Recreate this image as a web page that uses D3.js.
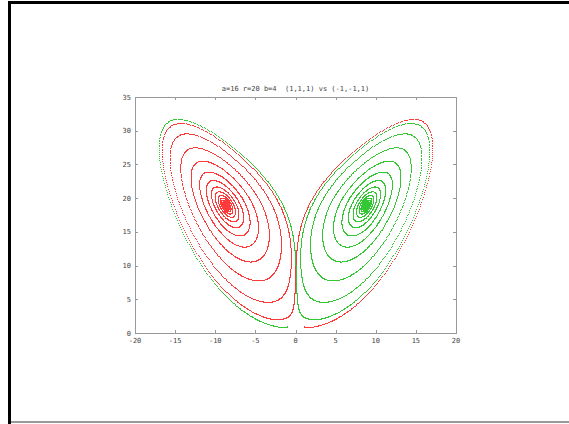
<!DOCTYPE html>
<html>
<head>
<meta charset="utf-8">
<script src="https://cdn.jsdelivr.net/npm/d3@7"></script>
<style>
  html, body { margin: 0; padding: 0; background: #fff; }
  svg { display: block; }
  .tick-label { font-family: "DejaVu Sans Mono", monospace; font-size: 7px; fill: #444; white-space: pre; }
</style>
</head>
<body>
<div id="chart"></div>
<script>
// Lorenz system as given in the title: a, r, b
const params = [16, 20, 4];
// starting points of the two runs (red, green)
const startRed = [1, 1, 1];
const startGreen = [-1, -1, 1];
const runColors = ['#ff3a3a', '#33c833'];
// time step and length of each run
const timing = [0.0015, 22];

const xTicks = [-20, -15, -10, -5, 0, 5, 10, 15, 20];
const yTicks = [0, 5, 10, 15, 20, 25, 30, 35];
const title = 'a=16 r=20 b=4  (1,1,1) vs (-1,-1,1)';

const W = 569, H = 424;
const plot = { left: 135, right: 456, top: 97, bottom: 333 };

// RK4 integration of the trajectory, keeping (x, z)
function trajectory(p0) {
  const [a, r, b] = params;
  const [dt, tEnd] = timing;
  const f = ([x, y, z]) => [a * (y - x), x * (r - z) - y, x * y - b * z];
  let s = p0.slice();
  const pts = [[s[0], s[2]]];
  const n = Math.round(tEnd / dt);
  for (let i = 0; i < n; i++) {
    const k1 = f(s);
    const k2 = f(s.map((v, j) => v + dt / 2 * k1[j]));
    const k3 = f(s.map((v, j) => v + dt / 2 * k2[j]));
    const k4 = f(s.map((v, j) => v + dt * k3[j]));
    s = s.map((v, j) => v + dt / 6 * (k1[j] + 2 * k2[j] + 2 * k3[j] + k4[j]));
    pts.push([s[0], s[2]]);
  }
  return pts;
}

const svg = d3.select('#chart').append('svg')
  .attr('width', W).attr('height', H);

// page edges from the original screenshot
svg.append('rect').attr('x', 8).attr('y', 1).attr('width', W - 8).attr('height', 3).attr('fill', '#000');
svg.append('rect').attr('x', 8).attr('y', 1).attr('width', 3).attr('height', H).attr('fill', '#000');
svg.append('rect').attr('x', 11).attr('y', 421).attr('width', W - 11).attr('height', 2).attr('fill', '#999');

const x = d3.scaleLinear().domain([-20, 20]).range([plot.left, plot.right]);
const y = d3.scaleLinear().domain([0, 35]).range([plot.bottom, plot.top]);

// data points, one pixel each
[startRed, startGreen].forEach((p0, i) => {
  const pts = trajectory(p0);
  const d = pts.map(([px, pz]) => `M${Math.round(x(px))},${Math.round(y(pz)) + 0.5}h1`).join('');
  svg.append('path')
    .attr('d', d)
    .attr('stroke', runColors[i])
    .attr('stroke-width', 1)
    .attr('fill', 'none')
    .attr('shape-rendering', 'crispEdges');
});

// frame
svg.append('rect')
  .attr('x', plot.left + 0.5).attr('y', plot.top + 0.5)
  .attr('width', plot.right - plot.left).attr('height', plot.bottom - plot.top)
  .attr('fill', 'none').attr('stroke', '#999').attr('stroke-width', 1);

const tickLen = 3;
const g = svg.append('g').attr('stroke', '#999').attr('stroke-width', 1);
xTicks.forEach(t => {
  const px = Math.round(x(t)) + 0.5;
  g.append('line').attr('x1', px).attr('x2', px).attr('y1', plot.bottom).attr('y2', plot.bottom - tickLen);
  g.append('line').attr('x1', px).attr('x2', px).attr('y1', plot.top).attr('y2', plot.top + tickLen);
});
yTicks.forEach(t => {
  const py = Math.round(y(t)) + 0.5;
  g.append('line').attr('x1', plot.left).attr('x2', plot.left + tickLen).attr('y1', py).attr('y2', py);
  g.append('line').attr('x1', plot.right).attr('x2', plot.right - tickLen).attr('y1', py).attr('y2', py);
});

svg.selectAll('.xlab').data(xTicks).enter().append('text')
  .attr('class', 'tick-label')
  .attr('x', d => x(d)).attr('y', plot.bottom + 10)
  .attr('text-anchor', 'middle')
  .text(d => d);

svg.selectAll('.ylab').data(yTicks).enter().append('text')
  .attr('class', 'tick-label')
  .attr('x', plot.left - 4).attr('y', d => y(d) + 2.5)
  .attr('text-anchor', 'end')
  .text(d => d);

svg.append('text')
  .attr('class', 'tick-label')
  .attr('x', (plot.left + plot.right) / 2).attr('y', 91)
  .attr('text-anchor', 'middle')
  .text(title);
</script>
</body>
</html>
